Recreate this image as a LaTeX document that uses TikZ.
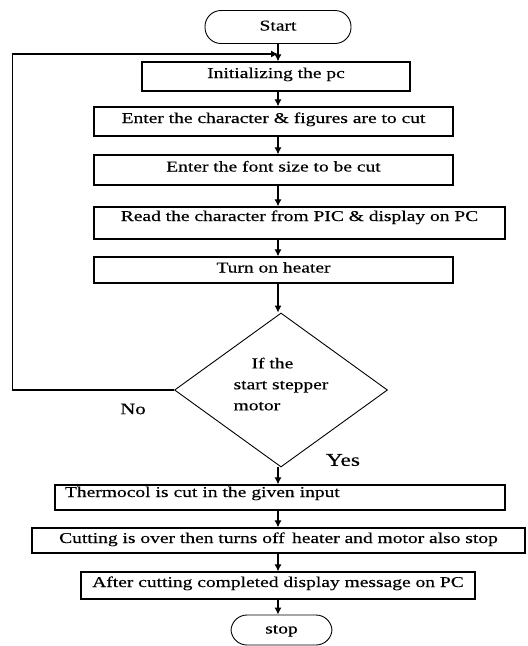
\documentclass[tikz,border=0pt]{standalone}
\usepackage{fontspec}
\setmainfont{Liberation Serif}[FakeStretch=1.3, FakeBold=0.4]
\usepackage{tikz}
\usetikzlibrary{arrows}
\usetikzlibrary{arrows.meta}
\usetikzlibrary{shapes.geometric}
\tikzset{>=latex}
\tikzstyle{box} = [rectangle, draw, line width=1.2pt, inner sep=0, text height=11pt, text depth=8pt]
\tikzstyle{term} = [rectangle, rounded corners=16pt, draw, line width=0.9pt, inner sep=0, text height=11pt, text depth=4pt]
\tikzstyle{flow} = [-{Latex[length=7pt,width=7pt]}, line width=1.1pt]

\begin{document}
\begin{tikzpicture}[x=1pt, y=-1pt, font=\fontsize{15}{21}\selectfont]
\useasboundingbox (0,0) rectangle (528,646);
%\node [draw=none] at (280,0) {flow chart};
\node [term, minimum width=146pt, minimum height=33pt] (start) at (278,27) {Start};
\node [box, minimum width=268pt, minimum height=29pt] (init) at (276,76.5) {Initializing the pc};
\node [box, minimum width=359pt, minimum height=29pt] (chars) at (273.5,121.5) {Enter the character \& figures are to cut};
\node [box, minimum width=359pt, minimum height=30pt] (size) at (273.5,170) {Enter the font size to be cut};
\node [box, minimum width=411pt, minimum height=32pt, text depth=15pt] (read) at (299.5,223) {Read the character from PIC \& display on PC};
\node [box, minimum width=359pt, minimum height=26pt, text depth=6pt] (heat) at (273.5,270) {Turn on heater};
\node [diamond, draw, line width=0.9pt, minimum width=213pt, minimum height=154pt, aspect=1.4, inner sep=0, align=left, text depth=12pt] (dec) at (281,390) {\hspace*{18pt}If the\\start stepper\\motor};
\node [draw=none, font=\fontsize{16}{18}\selectfont] (no) at (133,409) {No};
\node [draw=none, font=\fontsize{18}{20}\selectfont] (yes) at (343,460) {Yes};
\node [box, minimum width=450pt, minimum height=25pt, text depth=12pt, text width=430pt, align=left] (cut) at (280,497.5) {Thermocol is cut in the given input};
\node [box, minimum width=493pt, minimum height=25pt, text depth=6pt] (over) at (278.5,540.5) {Cutting is over then turns off\, heater and motor also stop};
\node [box, minimum width=394pt, minimum height=27pt] (msg) at (278,585.5) {After cutting completed display message on PC};
\node [term, minimum width=101pt, minimum height=30pt] (stop) at (281.5,630) {stop};
\coordinate (back) at (278,54);

\draw [flow] (start.south) -- (start.south |- init.north);
\draw [flow] (init.south -| start.south) -- (start.south |- chars.north);
\draw [flow] (chars.south -| start.south) -- (start.south |- size.north);
\draw [flow] (size.south -| start.south) -- (start.south |- read.north);
\draw [flow] (read.south -| start.south) -- (start.south |- heat.north);
\draw [flow] (heat.south -| start.south) -- (start.south |- dec.north);
\draw [flow] (dec.south -| start.south) -- (start.south |- cut.north);
\draw [flow] (cut.south -| start.south) -- (start.south |- over.north);
\draw [flow] (over.south -| start.south) -- (start.south |- msg.north);
\draw [flow] (msg.south -| start.south) -- (start.south |- stop.north);
\draw [flow] (dec.west) -- ++(-162,0) |- (back);
\end{tikzpicture}
\end{document}
